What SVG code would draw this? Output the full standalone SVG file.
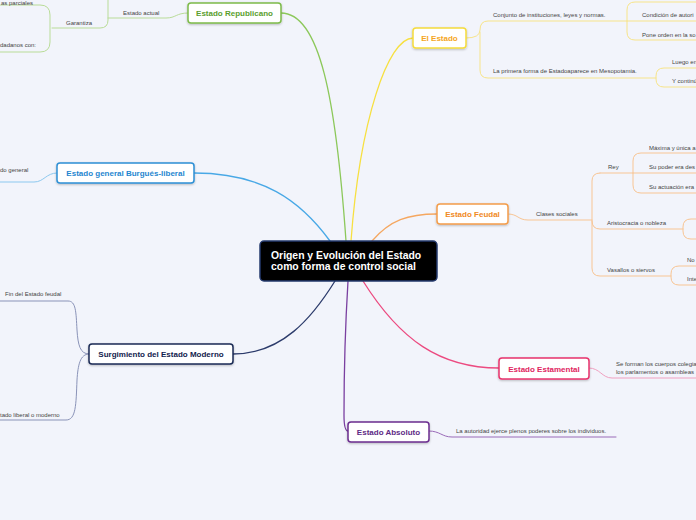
<svg xmlns="http://www.w3.org/2000/svg" width="696" height="520" viewBox="0 0 696 520">
<defs>
<filter id="sh" x="-10%" y="-30%" width="120%" height="170%"><feDropShadow dx="0" dy="1" stdDeviation="0.8" flood-color="#000" flood-opacity="0.25"/></filter>
<style>
.bx{fill:#fff;stroke-width:1.5;filter:url(#sh)}
.tt{font-family:"Liberation Sans",Arial,sans-serif;font-weight:bold;font-size:8px;text-anchor:middle}
.sm{font-family:"Liberation Sans",Arial,sans-serif;font-size:6px;fill:#444}
.ln{fill:none;stroke-width:1.3;stroke-linecap:round}
.cl{fill:none;stroke-width:1;stroke-linecap:round}
</style>
</defs>
<rect width="696" height="520" fill="#f2f4fb"/>
<g id="connectors">
<path class="ln" stroke="#8cc85a" d="M281 13 C320 13 336 100 346 241"/>
<path class="ln" stroke="#48a8e6" d="M194 173 C262 173 300 200 330 241"/>
<path class="ln" stroke="#f7e040" d="M413 38 C388 38 360 120 351 241"/>
<path class="ln" stroke="#f5a760" d="M437 214 C408 214 390 220 372 241"/>
<path class="ln" stroke="#2c3b6b" d="M233 354 C282 354 312 318 335 281"/>
<path class="ln" stroke="#7a3fa0" d="M348 281 C345 330 344 380 344 415 C344 426 345 431 348 431"/>
<path class="ln" stroke="#ec4a80" d="M363 281 C400 340 440 368 499 368"/>
<path class="cl" stroke="#b9dc98" d="M188 13 C176 13 176 18 166 18 H108"/>
<path class="cl" stroke="#b9dc98" d="M108 -5 V20 Q108 28 100 28 H52"/>
<path class="cl" stroke="#b9dc98" d="M0 5 H40 Q50 5 50 15 V42 Q50 52 40 52 H0"/>
<path class="cl" stroke="#8cc8ef" d="M57 173 C46 173 44 182 34 182 H0"/>
<path class="cl" stroke="#8a93b8" d="M89 354 C80 354 78 345 77 330 C76 312 76 301 68 301 H0"/>
<path class="cl" stroke="#8a93b8" d="M89 354 C80 354 78 365 77 380 C76 405 76 420 66 420 H0"/>
<path class="cl" stroke="#f7e48a" d="M466 38 Q480 38 480 30 Q480 21 488 21 H627"/>
<path class="cl" stroke="#f7e48a" d="M480 32 V70 Q480 78 488 78 H656"/>
<path class="cl" stroke="#f7e48a" d="M696 2 H635 Q627 2 627 10 V32 Q627 40 635 40 H696 M627 21 H696"/>
<path class="cl" stroke="#f7e48a" d="M696 68 H664 Q656 68 656 76 V79 Q656 87 664 87 H696"/>
<path class="cl" stroke="#f8c594" d="M508 214 C518 214 518 220 528 220 H592"/>
<path class="cl" stroke="#f8c594" d="M600 173 Q592 173 592 181 V268 Q592 276 600 276 H671 M592 221 Q592 229 600 229 H683 M600 173 H633"/>
<path class="cl" stroke="#f8c594" d="M696 153 H641 Q633 153 633 161 V185 Q633 193 641 193 H696 M633 173 H696"/>
<path class="cl" stroke="#f8c594" d="M696 219 H691 Q683 219 683 227 V231 Q683 239 691 239 H696"/>
<path class="cl" stroke="#f8c594" d="M696 266 H679 Q671 266 671 274 V277 Q671 285 679 285 H696"/>
<path class="cl" stroke="#f0a0c0" d="M589 368 C600 368 602 378 612 378 H696"/>
<path class="cl" stroke="#9a6ab8" d="M429 431 C440 431 442 437 452 437 H616"/>
</g>
<g id="center">
<rect x="260" y="241" width="177" height="40" rx="4" fill="#000" stroke="#253a6e" stroke-width="1.5"/>
<text x="271" y="259" font-family="Liberation Sans,Arial,sans-serif" font-weight="bold" font-size="10.4" fill="#fff">Origen y Evolución del Estado</text>
<text x="271" y="270" font-family="Liberation Sans,Arial,sans-serif" font-weight="bold" font-size="10.4" fill="#fff">como forma de control social</text>
</g>
<g id="republicano">
<rect class="bx" x="188" y="3" width="93" height="20" rx="3" stroke="#7dbb4a"/>
<text class="tt" x="234.5" y="16" fill="#5a9e2e">Estado Republicano</text>
<text class="sm" x="123" y="15">Estado actual</text>
<text class="sm" x="66" y="24.5">Garantiza</text>
<text class="sm" x="1" y="4.5">as parciales</text>
<text class="sm" x="0" y="47">dadanos con:</text>
</g>
<g id="burgues">
<rect class="bx" x="57" y="163" width="137" height="20" rx="3" stroke="#2d8fd5"/>
<text class="tt" x="125.5" y="176" fill="#1f86cf">Estado general Burgués-liberal</text>
<text class="sm" x="0" y="172">do general</text>
</g>
<g id="surgimiento">
<rect class="bx" x="89" y="344" width="144" height="20" rx="3" stroke="#1a2a55"/>
<text class="tt" x="161" y="357" fill="#12214d">Surgimiento del Estado Moderno</text>
<text class="sm" x="5" y="296">Fin del Estado feudal</text>
<text class="sm" x="0" y="416.5">tado liberal o moderno</text>
</g>
<g id="elestado">
<rect class="bx" x="413" y="28" width="53" height="20" rx="3" stroke="#f5dc3c"/>
<text class="tt" x="439.5" y="41" fill="#f5a623">El Estado</text>
<text class="sm" x="493" y="17">Conjunto de instituciones, leyes y normas.</text>
<text class="sm" x="642" y="16.5">Condición de autori</text>
<text class="sm" x="642" y="36.5">Pone orden en la so</text>
<text class="sm" x="493" y="73">La primera forma de Estadoaparece en Mesopotamia.</text>
<text class="sm" x="672" y="63.5">Luego en</text>
<text class="sm" x="672" y="82.5">Y continú</text>
</g>
<g id="feudal">
<rect class="bx" x="437" y="204" width="71" height="20" rx="3" stroke="#f39c4a"/>
<text class="tt" x="472.5" y="217" fill="#f08a24">Estado Feudal</text>
<text class="sm" x="536" y="215.5">Clases sociales</text>
<text class="sm" x="608" y="168.5">Rey</text>
<text class="sm" x="649" y="149.5">Máxima y única a</text>
<text class="sm" x="649" y="168.5">Su poder era des</text>
<text class="sm" x="649" y="188.5">Su actuación era</text>
<text class="sm" x="607" y="224.5">Aristocracia o nobleza</text>
<text class="sm" x="607" y="271.5">Vasallos o siervos</text>
<text class="sm" x="687" y="261.5">No</text>
<text class="sm" x="687" y="281">Inte</text>
</g>
<g id="estamental">
<rect class="bx" x="499" y="358" width="90" height="21" rx="3" stroke="#e8336c"/>
<text class="tt" x="544" y="371.5" fill="#e0245e">Estado Estamental</text>
<text class="sm" x="616" y="366">Se forman los cuerpos colegia</text>
<text class="sm" x="616" y="373.5">los parlamentos o asambleas</text>
</g>
<g id="absoluto">
<rect class="bx" x="348" y="422" width="81" height="20" rx="3" stroke="#6b2d8f"/>
<text class="tt" x="388.5" y="435" fill="#5e2a85">Estado Absoluto</text>
<text class="sm" x="456" y="433">La autoridad ejerce plenos poderes sobre los individuos.</text>
</g>
</svg>
